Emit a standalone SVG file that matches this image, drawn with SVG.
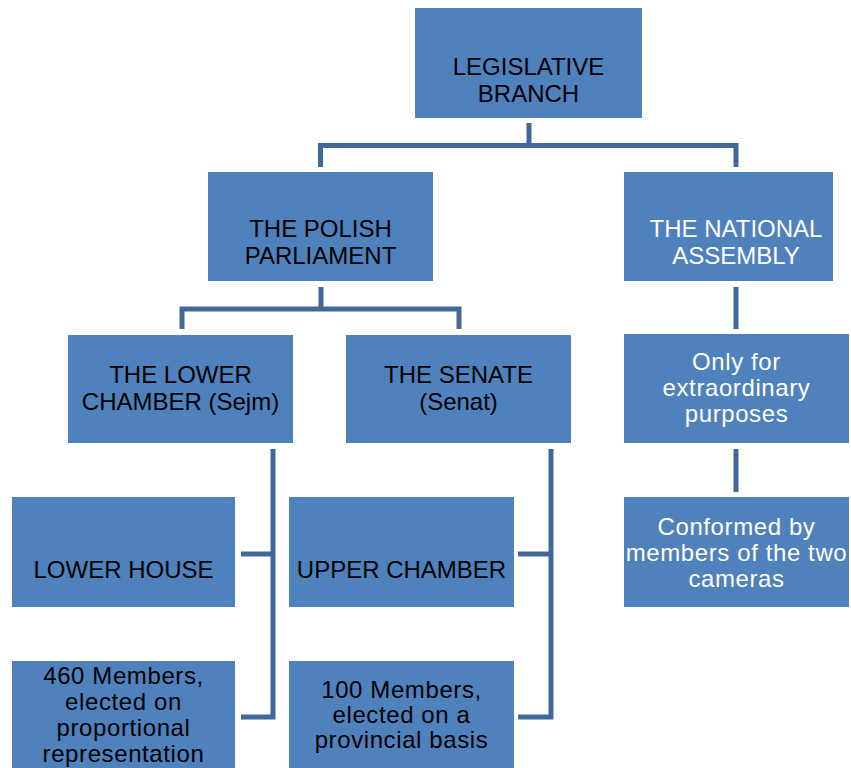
<svg xmlns="http://www.w3.org/2000/svg" width="851" height="768" viewBox="0 0 851 768">
<style>
.box{fill:#4F81BD}
.t{font-family:"Liberation Sans",Arial,sans-serif;font-size:24px;text-anchor:middle;fill:#000}
.w{fill:#fff}
.s{letter-spacing:0.6px}
.c{stroke:#41689B;stroke-width:5;fill:none;stroke-linejoin:miter}
</style>
<rect width="851" height="768" fill="#fff"/>
<g id="connectors">
<path class="c" d="M529 123V145.5M320.5 167V145.5H736V167"/>
<path class="c" d="M321 287V309M182 329V309H459V329"/>
<path class="c" d="M736 287V329M736 449V492"/>
<path class="c" d="M273 449V717M241 554H275.5M241 717H275.5"/>
<path class="c" d="M551 449V717M518 554H553.5M518 717H553.5"/>
</g>
<g id="legislative">
<rect class="box" x="415" y="8" width="227" height="110"/>
<text class="t" x="528.5" y="75">LEGISLATIVE</text>
<text class="t" x="528.5" y="102">BRANCH</text>
</g>
<g id="parliament">
<rect class="box" x="208" y="172" width="225" height="109"/>
<text class="t" x="320.5" y="237">THE POLISH</text>
<text class="t" x="320.5" y="264">PARLIAMENT</text>
</g>
<g id="assembly">
<rect class="box" x="624" y="172" width="209" height="109"/>
<text class="t w" x="736" y="237">THE NATIONAL</text>
<text class="t w" x="736" y="264">ASSEMBLY</text>
</g>
<g id="lower-chamber">
<rect class="box" x="68" y="335" width="225" height="108"/>
<text class="t" x="180.5" y="383">THE LOWER</text>
<text class="t" x="180.5" y="410">CHAMBER (Sejm)</text>
</g>
<g id="senate">
<rect class="box" x="346" y="335" width="225" height="108"/>
<text class="t" x="458.5" y="383">THE SENATE</text>
<text class="t" x="458.5" y="410">(Senat)</text>
</g>
<g id="extraordinary">
<rect class="box" x="624" y="334" width="225" height="109"/>
<text class="t w s" x="736.5" y="370">Only for</text>
<text class="t w s" x="736.5" y="396">extraordinary</text>
<text class="t w s" x="736.5" y="422">purposes</text>
</g>
<g id="lower-house">
<rect class="box" x="12" y="497" width="223" height="110"/>
<text class="t" x="123.5" y="578">LOWER HOUSE</text>
</g>
<g id="upper-chamber">
<rect class="box" x="289" y="497" width="225" height="110"/>
<text class="t" x="401.5" y="578">UPPER CHAMBER</text>
</g>
<g id="conformed">
<rect class="box" x="624" y="497" width="225" height="110"/>
<text class="t w s" x="736.5" y="535">Conformed by</text>
<text class="t w s" x="736.5" y="561">members of the two</text>
<text class="t w s" x="736.5" y="587">cameras</text>
</g>
<g id="members-460">
<rect class="box" x="12" y="661" width="223" height="107"/>
<text class="t s" x="123.5" y="684">460 Members,</text>
<text class="t s" x="123.5" y="710">elected on</text>
<text class="t s" x="123.5" y="736">proportional</text>
<text class="t s" x="123.5" y="762">representation</text>
</g>
<g id="members-100">
<rect class="box" x="289" y="661" width="225" height="107"/>
<text class="t s" x="401.5" y="698">100 Members,</text>
<text class="t s" x="401.5" y="723">elected on a</text>
<text class="t s" x="401.5" y="748">provincial basis</text>
</g>
</svg>
